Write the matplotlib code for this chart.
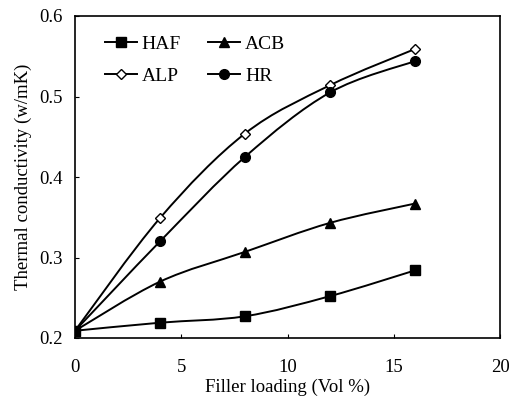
import matplotlib
matplotlib.use("Agg")
import matplotlib.pyplot as plt
import numpy as np
from matplotlib.path import Path
from matplotlib.patches import PathPatch
from matplotlib.lines import Line2D

plt.rcParams['font.family'] = ['Liberation Serif', 'DejaVu Serif']

loading = [0, 4, 8, 12, 16]
haf = [0.209, 0.219, 0.227, 0.252, 0.284]
acb = [0.209, 0.270, 0.307, 0.343, 0.367]
alp = [0.209, 0.349, 0.454, 0.514, 0.559]
hr = [0.209, 0.320, 0.425, 0.505, 0.544]

fig = plt.figure(figsize=(5.09, 4.01), dpi=100)
ax = fig.add_axes([75 / 509, 63 / 401, 425 / 509, 322 / 401])


def smooth_path(x, y):
    pts = np.column_stack([x, y]).astype(float)
    n = len(pts)
    verts = [pts[0]]
    codes = [Path.MOVETO]
    for i in range(n - 1):
        p0 = pts[i - 1] if i > 0 else pts[i]
        p1 = pts[i]
        p2 = pts[i + 1]
        p3 = pts[i + 2] if i + 2 < n else pts[i + 1]
        c1 = p1 + (p2 - p0) / 6.0
        c2 = p2 - (p3 - p1) / 6.0
        verts += [c1, c2, p2]
        codes += [Path.CURVE4] * 3
    return Path(verts, codes)


series = [
    ("HAF", haf, dict(marker='s', markerfacecolor='black', markersize=6.5)),
    ("ACB", acb, dict(marker='^', markerfacecolor='black', markersize=7)),
    ("ALP", alp, dict(marker='D', markerfacecolor='white', markersize=5.5)),
    ("HR", hr, dict(marker='o', markerfacecolor='black', markersize=7)),
]
handles = {}
for name, vals, mk in series:
    ax.add_patch(PathPatch(smooth_path(loading, vals), facecolor='none',
                           edgecolor='black', lw=1.4, zorder=2))
    ax.plot(loading, vals, linestyle='none', color='black',
            markeredgecolor='black', zorder=3, **mk)
    handles[name] = Line2D([], [], color='black', lw=1.4,
                           markeredgecolor='black', **mk)

ax.set_xlim(0, 20)
ax.set_ylim(0.2, 0.6)
ax.set_xticks([0, 5, 10, 15, 20])
ax.set_yticks([0.2, 0.3, 0.4, 0.5, 0.6])
ax.set_yticklabels(['0.2', '0.3', '0.4', '0.5', '0.6'])
ax.tick_params(direction='in', length=3, labelsize=13.5)
ax.tick_params(axis='y', pad=9)
ax.tick_params(axis='x', pad=15)
for s in ax.spines.values():
    s.set_linewidth(1.2)

ax.set_xlabel('Filler loading (Vol %)', fontsize=13.5, labelpad=2)
ax.set_ylabel('Thermal conductivity (w/mK)', fontsize=13.5, labelpad=5)

order = ['HAF', 'ALP', 'ACB', 'HR']
ax.legend([handles[k] for k in order], order, ncol=2, frameon=False,
          loc='upper left', bbox_to_anchor=(0.07, 0.94), fontsize=14,
          borderaxespad=0, borderpad=0,
          handlelength=1.65, columnspacing=1.4, handletextpad=0.25,
          labelspacing=0.75)

fig.savefig('out.png', dpi=100)
